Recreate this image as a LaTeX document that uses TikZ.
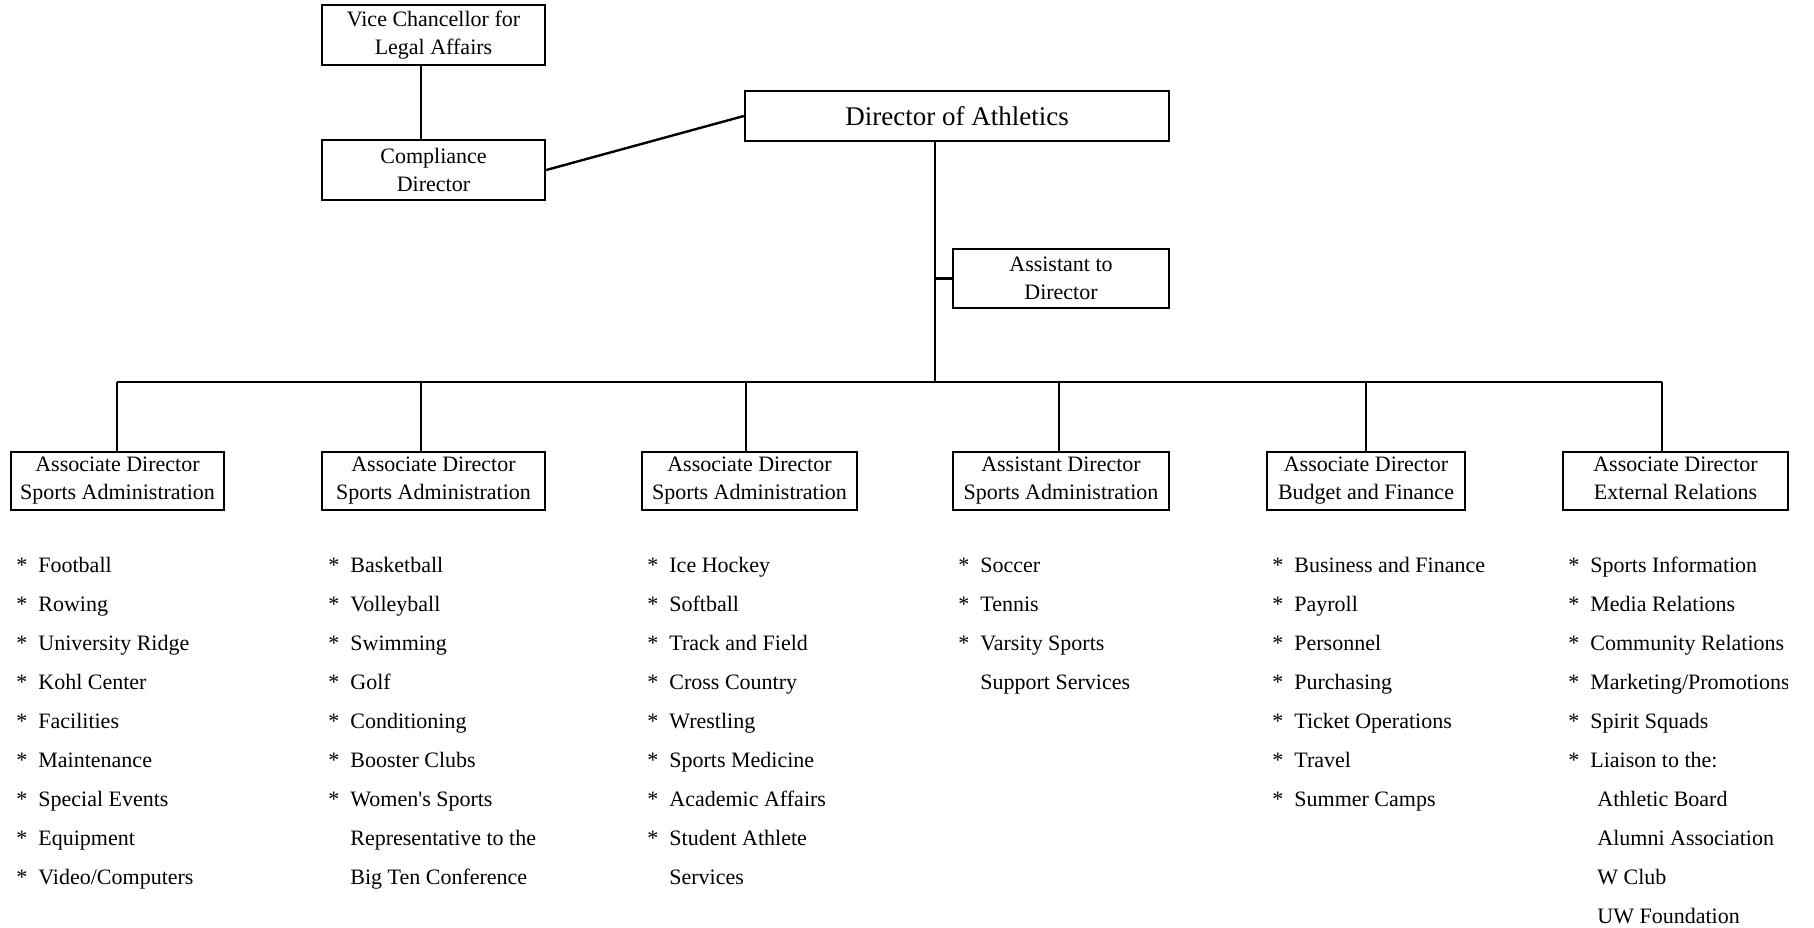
\documentclass[tikz,border=0pt]{standalone}
\usepackage{fontspec}
\setmainfont{Liberation Serif}
\usetikzlibrary{calc}

\newcommand{\itm}[1]{\makebox[11pt][l]{*}#1}
\newcommand{\cnt}[1]{\hspace*{11pt}#1}

\begin{document}
\begin{tikzpicture}[x=.5pt, y=-.5pt,
  box/.style={draw, line width=1.2pt, inner sep=0pt, align=center, font=\fontsize{11}{14}\selectfont},
  list/.style={anchor=base west, inner sep=0pt, align=left, font=\fontsize{11}{19.5}\selectfont}]
\useasboundingbox (0,0) rectangle (1814,927);

% top of the chart
\node[box, minimum width=111.5pt, minimum height=30pt] (vc) at (433.5,35) {Vice Chancellor for\\Legal Affairs};
\node[box, minimum width=111.5pt, minimum height=30pt] (comp) at (433.5,170) {Compliance\\Director};
\node[box, minimum width=212pt, minimum height=25pt, font=\fontsize{13.5}{16}\selectfont] (dir) at (957,116) {Director of Athletics};
\node[box, minimum width=108pt, minimum height=29.5pt] (asst) at (1061,278.5) {Assistant to\\Director};

% second level
\node[box, minimum width=106.5pt, minimum height=29pt] (sa1) at (117.5,481) {Associate Director\\Sports Administration};
\node[box, minimum width=111.5pt, minimum height=29pt] (sa2) at (433.5,481) {Associate Director\\Sports Administration};
\node[box, minimum width=107.5pt, minimum height=29pt] (sa3) at (749.5,481) {Associate Director\\Sports Administration};
\node[box, minimum width=108pt, minimum height=29pt] (sa4) at (1061,481) {Assistant Director\\Sports Administration};
\node[box, minimum width=99pt, minimum height=29pt] (bf) at (1366,481) {Associate Director\\Budget and Finance};
\node[box, minimum width=112.5pt, minimum height=29pt] (er) at (1675.5,481) {Associate Director\\External Relations\vphantom{p}};

% lines
\coordinate (trunk) at (935,382);
\coordinate (d1) at (117,382);
\coordinate (d2) at (421,382);
\coordinate (d3) at (746,382);
\coordinate (d4) at (1059,382);
\coordinate (d5) at (1366,382);
\coordinate (d6) at (1662,382);

\draw[line width=1.2pt] (vc.south -| d2) -- (comp.north -| d2);
\draw[line width=1.2pt] (comp.east) -- (dir.west);
\draw[line width=1.2pt] (trunk |- dir.south) -- (trunk);
\draw[line width=1.2pt] (asst.west) -- (asst.west -| trunk);
\draw[line width=1.2pt] (d1) -- (d6);
\draw[line width=1.2pt] (d1) -- (d1 |- sa1.north);
\draw[line width=1.2pt] (d2) -- (d2 |- sa2.north);
\draw[line width=1.2pt] (d3) -- (d3 |- sa3.north);
\draw[line width=1.2pt] (d4) -- (d4 |- sa4.north);
\draw[line width=1.2pt] (d5) -- (d5 |- bf.north);
\draw[line width=1.2pt] (d6) -- (d6 |- er.north);

% duties (placed by the baseline of their last line)
\node[list] (l1) at (16,884) {\itm{Football}\\ \itm{Rowing}\\ \itm{University Ridge}\\ \itm{Kohl Center}\\ \itm{Facilities}\\ \itm{Maintenance}\\ \itm{Special Events}\\ \itm{Equipment}\\ \itm{Video/Computers}};
\node[list] (l2) at (328,884) {\itm{Basketball}\\ \itm{Volleyball}\\ \itm{Swimming}\\ \itm{Golf}\\ \itm{Conditioning}\\ \itm{Booster Clubs}\\ \itm{Women\textquotesingle s Sports}\\ \cnt{Representative to the}\\ \cnt{Big Ten Conference}};
\node[list] (l3) at (647,884) {\itm{Ice Hockey}\\ \itm{Softball}\\ \itm{Track and Field}\\ \itm{Cross Country}\\ \itm{Wrestling}\\ \itm{Sports Medicine}\\ \itm{Academic Affairs}\\ \itm{Student Athlete}\\ \cnt{Services}};
\node[list] (l4) at (958,689) {\itm{Soccer}\\ \itm{Tennis}\\ \itm{Varsity Sports}\\ \cnt{Support Services}};
\node[list] (l5) at (1272,806) {\itm{Business and Finance}\\ \itm{Payroll}\\ \itm{Personnel}\\ \itm{Purchasing}\\ \itm{Ticket Operations}\\ \itm{Travel}\\ \itm{Summer Camps}};
\begin{scope}
\clip (1540,530) rectangle (1787,927);
\node[list] (l6) at (1568,923) {\itm{Sports Information}\\ \itm{Media Relations}\\ \itm{Community Relations}\\ \itm{Marketing/Promotions}\\ \itm{Spirit Squads}\\ \itm{Liaison to the:}\\ \hspace*{14.5pt}Athletic Board\\ \hspace*{14.5pt}Alumni Association\\ \hspace*{14.5pt}W Club\\ \hspace*{14.5pt}UW Foundation};
\end{scope}

\end{tikzpicture}
\end{document}
